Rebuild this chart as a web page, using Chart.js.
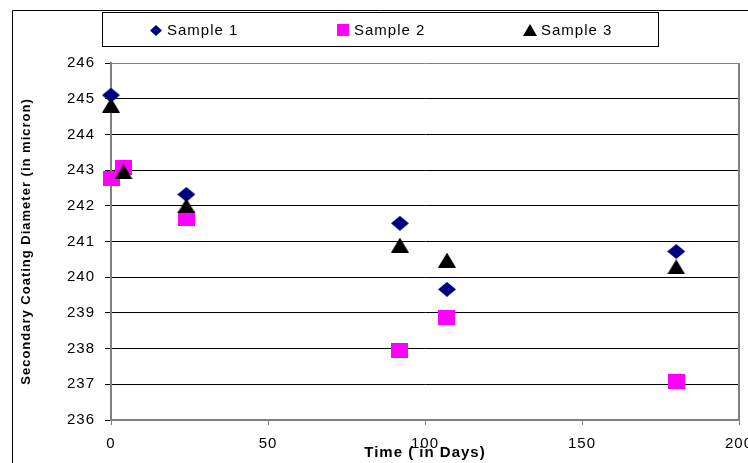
<!DOCTYPE html>
<html><head><meta charset="utf-8">
<script src="https://cdn.jsdelivr.net/npm/chart.js@4.4.1/dist/chart.umd.min.js"></script>
<style>html,body{margin:0;padding:0;background:#fff;overflow:hidden}#wrap{width:748px;height:463px;position:relative}</style>
</head><body><div id="wrap"><canvas id="c" width="748" height="463"></canvas></div>
<script>
const seriesNames = ['Sample 1', 'Sample 2', 'Sample 3'];
const sample1Days = [0, 24, 92, 107, 180];
const sample1Values = [245.10, 242.32, 241.51, 239.66, 240.72];
const sample2Days = [0, 4, 24, 92, 107, 180];
const sample2Values = [242.77, 243.08, 241.64, 237.96, 238.86, 237.09];
const sample3Days = [0, 4, 24, 92, 107, 180];
const sample3Values = [244.82, 242.95, 242.00, 240.90, 240.48, 240.29];
const xTickValues = [0, 50, 100, 150, 200];
const yTickValues = [236, 237, 238, 239, 240, 241, 242, 243, 244, 245, 246];
const xTitle = 'Time ( in Days)';
const yTitle = 'Secondary Coating Diameter (in micron)';

const FONT = "'Liberation Sans', Arial, sans-serif";
Chart.defaults.font.family = FONT;
Chart.defaults.color = '#000';

function marker(shape, w, h, color) {
  const c = document.createElement('canvas');
  c.width = w; c.height = h;
  const g = c.getContext('2d');
  g.fillStyle = color;
  g.beginPath();
  if (shape === 'diamond') {
    g.moveTo(w / 2, 0); g.lineTo(w, h / 2); g.lineTo(w / 2, h); g.lineTo(0, h / 2); g.closePath();
  } else if (shape === 'square') {
    g.rect(0, 0, w, h);
  } else {
    g.moveTo(w / 2, 0); g.lineTo(w, h); g.lineTo(0, h); g.closePath();
  }
  g.fill();
  return c;
}
const colors = ['#000080', '#FF00FF', '#000000'];
const plotMarkers = [marker('diamond', 18, 15, colors[0]), marker('square', 17, 15, colors[1]), marker('triangle', 18, 15, colors[2])];
const legendMarkers = [marker('diamond', 12, 11, colors[0]), marker('square', 12, 12, colors[1]), marker('triangle', 14, 12, colors[2])];

const toPoints = (xs, ys) => xs.map((x, i) => ({ x: x, y: ys[i] }));
const datasets = [
  { label: seriesNames[0], data: toPoints(sample1Days, sample1Values), order: 2 },
  { label: seriesNames[1], data: toPoints(sample2Days, sample2Values), order: 1 },
  { label: seriesNames[2], data: toPoints(sample3Days, sample3Values), order: 0 }
].map((d, i) => Object.assign(d, {
  pointStyle: plotMarkers[i], backgroundColor: colors[i], borderColor: colors[i], showLine: false, clip: false
}));

const spacingPlugin = {
  id: 'spacing',
  beforeUpdate(chart) { chart.ctx.letterSpacing = '1px'; },
  beforeDraw(chart) { chart.ctx.letterSpacing = '1px'; }
};

const framePlugin = {
  id: 'frame',
  beforeDatasetsDraw(chart) {
    const ctx = chart.ctx, a = chart.chartArea;
    ctx.save();
    // right plot border
    ctx.strokeStyle = '#808080'; ctx.lineWidth = 2;
    ctx.beginPath(); ctx.moveTo(a.right, a.top); ctx.lineTo(a.right, a.bottom); ctx.stroke();
    ctx.restore();
  },
  afterDraw(chart) {
    const ctx = chart.ctx;
    ctx.save();
    // outer chart frame
    ctx.strokeStyle = '#000'; ctx.lineWidth = 1;
    ctx.beginPath(); ctx.moveTo(12.5, 463); ctx.lineTo(12.5, 10.5); ctx.lineTo(748, 10.5); ctx.stroke();
    // legend
    ctx.strokeRect(102.5, 12.5, 556, 34);
    ctx.font = '15px ' + FONT;
    ctx.letterSpacing = '1px';
    ctx.fillStyle = '#000';
    ctx.textBaseline = 'middle';
    ctx.textAlign = 'left';
    chart.data.datasets.forEach((ds, i) => {
      const cx = 156 + i * 187;
      const m = legendMarkers[i];
      ctx.drawImage(m, Math.round(cx - m.width / 2), Math.round(30 - m.height / 2));
      ctx.fillText(ds.label, cx + 11, 30.5);
    });
    ctx.restore();
  }
};

new Chart(document.getElementById('c'), {
  type: 'scatter',
  data: { datasets: datasets },
  plugins: [spacingPlugin, framePlugin],
  options: {
    responsive: false,
    animation: false,
    devicePixelRatio: 1,
    layout: { padding: { top: 63, right: 9, bottom: 0, left: 0 } },
    plugins: { legend: { display: false }, tooltip: { enabled: false } },
    elements: { point: { radius: 8, hoverRadius: 8 } },
    scales: {
      x: {
        type: 'linear', min: 0, max: 200,
        afterBuildTicks(s) { s.ticks = xTickValues.map(v => ({ value: v })); },
        afterFit(s) { s.height = 43; s.paddingLeft = 0; s.paddingRight = 0; },
        ticks: { font: { size: 15 }, color: '#000', padding: 10, maxRotation: 0 },
        grid: { drawOnChartArea: false, drawTicks: true, tickLength: 5, color: '#808080', lineWidth: 1 },
        border: { display: true, color: '#808080', width: 2 },
        title: { display: true, text: xTitle, color: '#000', font: { size: 15, weight: 'bold' }, padding: { top: 0, bottom: 1 } }
      },
      y: {
        type: 'linear', min: 236, max: 246,
        afterBuildTicks(s) { s.ticks = yTickValues.map(v => ({ value: v })); },
        afterFit(s) { s.width = 111; s.paddingTop = 0; s.paddingBottom = 0; },
        ticks: { font: { size: 15 }, color: '#000', padding: 10 },
        grid: {
          drawOnChartArea: true, drawTicks: true, tickLength: 6, lineWidth: 1,
          color: (c) => (c.tick && c.tick.value === 246 ? '#808080' : (c.tick && c.tick.value === 236 ? 'rgba(0,0,0,0)' : '#000')),
          tickColor: '#000'
        },
        border: { display: true, color: '#808080', width: 2 },
        title: { display: true, text: yTitle, color: '#000', font: { size: 13, weight: 'bold' }, padding: { top: 19, bottom: 0 } }
      }
    }
  }
});
</script></body></html>
